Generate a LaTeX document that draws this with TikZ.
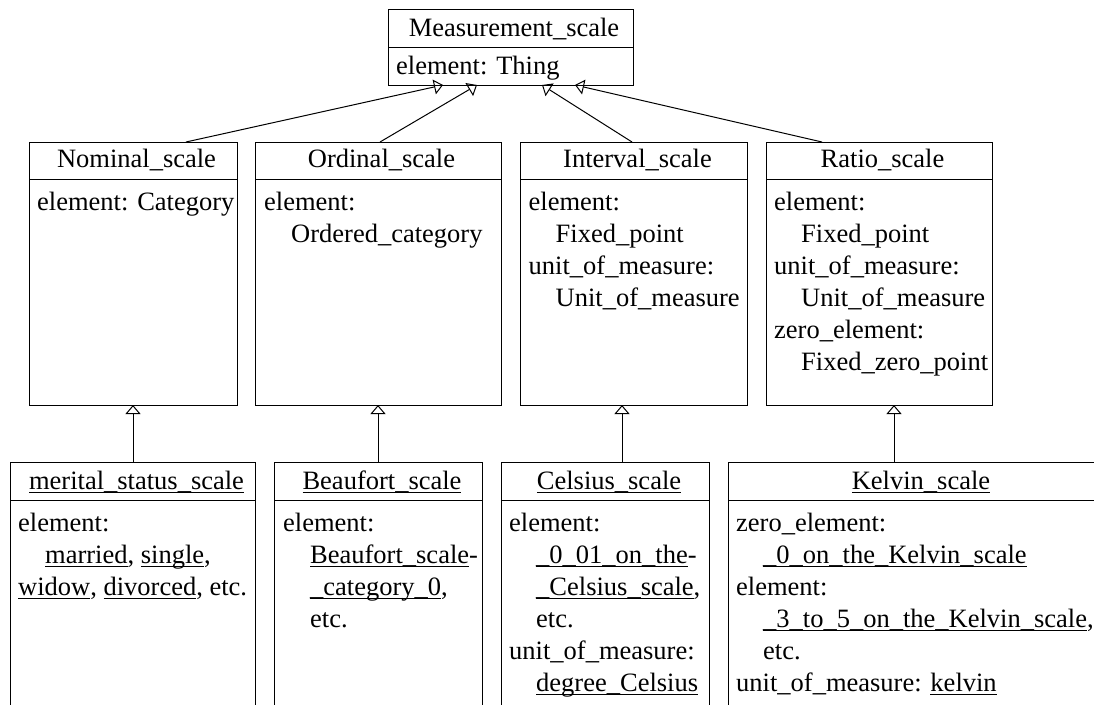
\documentclass[tikz,border=0pt]{standalone}
\usepackage{fontspec}
\setmainfont{Liberation Serif}
\usetikzlibrary{arrows.meta,calc}
\newcommand\ulx[1]{\begingroup\setbox0=\hbox{#1}\rlap{\rule[-3.5pt]{\wd0}{0.9pt}}\box0\endgroup}
\newcommand\ind{\hspace*{27pt}}
\tikzset{
  classbox/.style={draw, line width=1pt, inner sep=0pt, outer sep=0pt},
  divider/.style={draw, line width=1pt},
  ttl/.style={anchor=base, inner sep=0pt, font=\fontsize{26.5}{32}\selectfont},
  body/.style={anchor=base west, align=left, inner sep=0pt, font=\fontsize{26.5}{32}\selectfont},
  gen/.style={draw, line width=1pt, -{Triangle[open, length=9pt, width=15pt, line width=1pt]}}
}
\begin{document}
\begin{tikzpicture}[x=1pt,y=-1pt]
\useasboundingbox (0,0) rectangle (1094,704);
\clip (0,0) rectangle (1094,704);
% top class
\node[classbox, minimum width=245pt, minimum height=76pt] (ms) at (510.5,47) {};
\draw[divider] ([yshift=-38pt]ms.north west) -- ([yshift=-38pt]ms.north east);
\node[ttl] (msT) at (514,36.7) {Measurement\_scale};
\node[body] (msB) at (396,74) {element: Thing};
% row 2 (body nodes are placed by the baseline of their last line)
\node[classbox, minimum width=208pt, minimum height=263pt] (nominal) at (133,273.5) {};
\node[classbox, minimum width=246pt, minimum height=263pt] (ordinal) at (378,273.5) {};
\node[classbox, minimum width=227pt, minimum height=263pt] (interval) at (633.5,273.5) {};
\node[classbox, minimum width=226pt, minimum height=263pt] (ratio) at (879,273.5) {};
\foreach \n in {nominal,ordinal,interval,ratio}
  \draw[divider] ([yshift=-37pt]\n.north west) -- ([yshift=-37pt]\n.north east);
\node[ttl] (nominalT) at (136.5,167.5) {Nominal\_scale};
\node[ttl] (ordinalT) at (381.5,167.5) {Ordinal\_scale};
\node[ttl] (intervalT) at (637.5,167.5) {Interval\_scale};
\node[ttl] (ratioT) at (882.5,167.5) {Ratio\_scale};
\node[body] (nominalB) at (37,210) {element: Category};
\node[body] (ordinalB) at (264,242) {element:\\\ind Ordered\_category};
\node[body] (intervalB) at (528.5,306) {element:\\\ind Fixed\_point\\unit\_of\_measure:\\\ind Unit\_of\_measure};
\node[body] (ratioB) at (774,370) {element:\\\ind Fixed\_point\\unit\_of\_measure:\\\ind Unit\_of\_measure\\zero\_element:\\\ind Fixed\_zero\_point};
% row 3
\node[classbox, minimum width=245pt, minimum height=258pt] (merital) at (132.5,591) {};
\node[classbox, minimum width=208pt, minimum height=258pt] (beaufort) at (378,591) {};
\node[classbox, minimum width=208pt, minimum height=258pt] (celsius) at (605,591) {};
\node[classbox, minimum width=382pt, minimum height=258pt] (kelvin) at (919,591) {};
\foreach \n in {merital,beaufort,celsius,kelvin}
  \draw[divider] ([yshift=-38pt]\n.north west) -- ([yshift=-38pt]\n.north east);
\node[ttl] (meritalT) at (136.5,489) {\ulx{merital\_status\_scale}};
\node[ttl] (beaufortT) at (382,489) {\ulx{Beaufort\_scale}};
\node[ttl] (celsiusT) at (609,489) {\ulx{Celsius\_scale}};
\node[ttl] (kelvinT) at (921,489) {\ulx{Kelvin\_scale}};
\node[body] (meritalB) at (18,595) {element:\\\ind\ulx{married}, \ulx{single},\\\ulx{widow}, \ulx{divorced}, etc.};
\node[body] (beaufortB) at (283,627) {element:\\\ind\ulx{Beaufort\_scale}-\\\ind\ulx{\_category\_0},\\\ind etc.};
\node[body] (celsiusB) at (509,691) {element:\\\ind\ulx{\_0\_01\_on\_the}-\\\ind\ulx{\_Celsius\_scale},\\\ind etc.\\unit\_of\_measure:\\\ind\ulx{degree\_Celsius}};
\node[body] (kelvinB) at (736,691) {zero\_element:\\\ind\ulx{\_0\_on\_the\_Kelvin\_scale}\\element:\\\ind\ulx{\_3\_to\_5\_on\_the\_Kelvin\_scale},\\\ind etc.\\unit\_of\_measure: \ulx{kelvin}};
% generalisations
\draw[gen] ([xshift=53pt]nominal.north) -- ([xshift=-67.5pt]ms.south);
\draw[gen] ([xshift=2pt]ordinal.north) -- ([xshift=-33.5pt]ms.south);
\draw[gen] ([xshift=-1.5pt]interval.north) -- ([xshift=31.5pt]ms.south);
\draw[gen] ([xshift=-57pt]ratio.north) -- ([xshift=64.5pt]ms.south);
\draw[gen] ([xshift=0.5pt]merital.north) -- (nominal.south);
\draw[gen] (beaufort.north) -- (ordinal.south);
\draw[gen] ([xshift=17pt]celsius.north) -- ([xshift=-11.5pt]interval.south);
\draw[gen] ([xshift=-25pt]kelvin.north) -- ([xshift=15pt]ratio.south);
\end{tikzpicture}
\end{document}
